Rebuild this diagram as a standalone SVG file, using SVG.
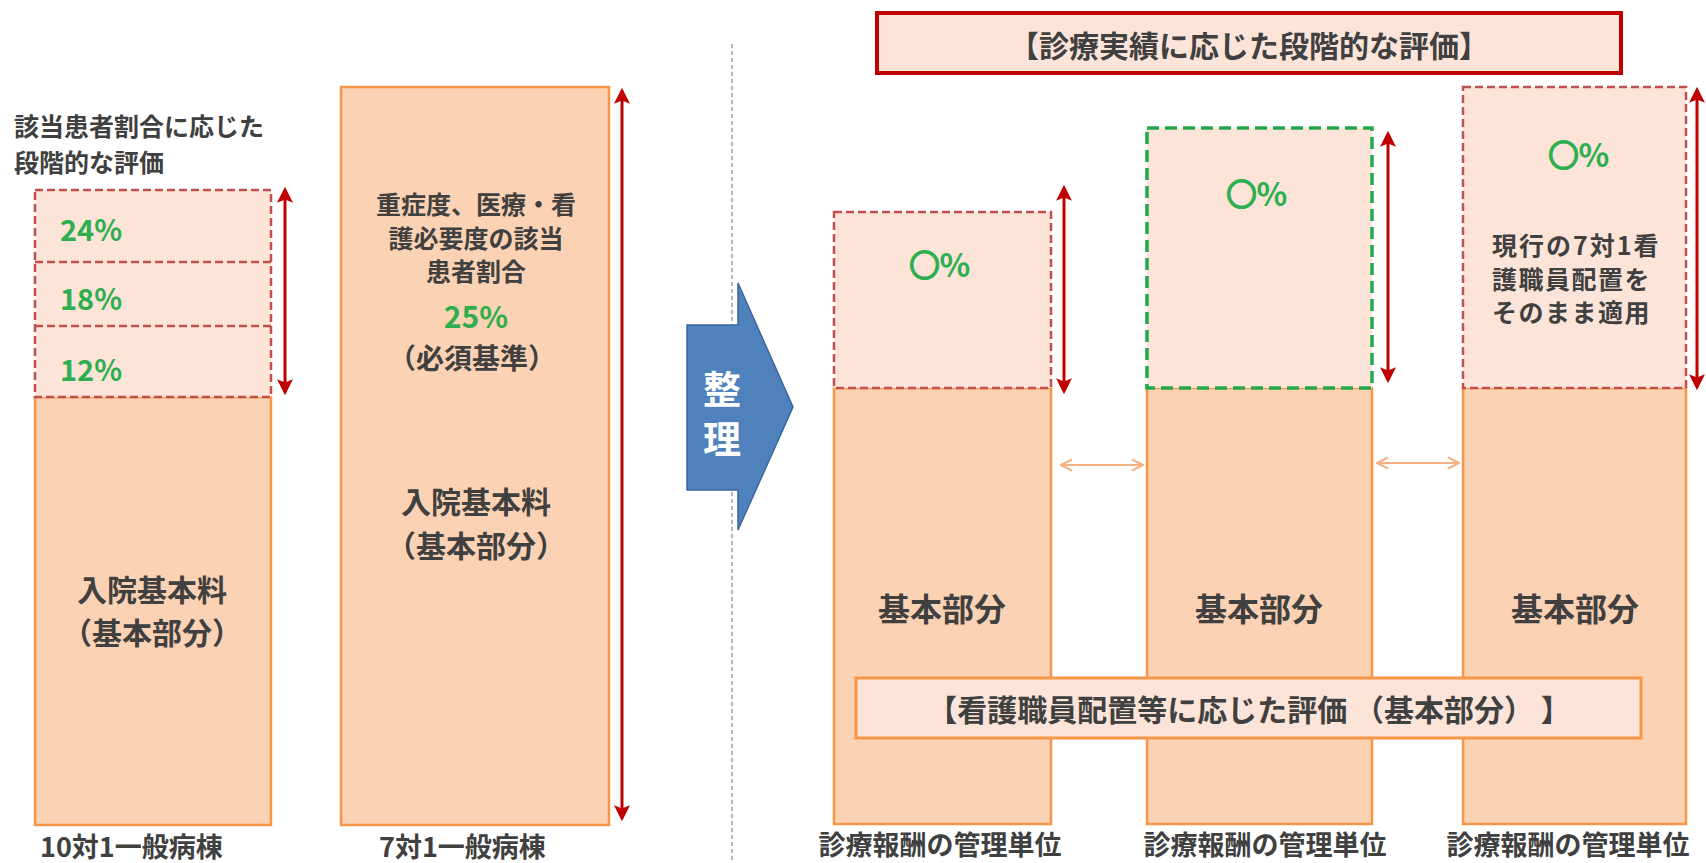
<svg xmlns="http://www.w3.org/2000/svg" width="1706" height="863" viewBox="0 0 1706 863">
<defs>
<style>
.t{font-family:"Noto Sans CJK JP","Noto Sans CJK SC",sans-serif;font-weight:700;fill:#404040;dominant-baseline:central}
.c{text-anchor:middle}
.g{fill:#2EAF4F}
.o{stroke:#2EAF4F;stroke-width:2.2}
.solid{fill:#FBD2B3;stroke:#F79646;stroke-width:2.5}
.dashr{fill:#FCE5D8;stroke:#C0504D;stroke-width:2.5;stroke-dasharray:8 4}
.dashg{fill:#FCE5D8;stroke:#22A84A;stroke-width:3.5;stroke-dasharray:12 6}
.redar{stroke:#C00000;stroke-width:3;fill:none;marker-start:url(#ra);marker-end:url(#ra)}
.orar{stroke:#F4B183;stroke-width:2;fill:none;marker-start:url(#oa);marker-end:url(#oa)}
</style>
<marker id="ra" viewBox="0 0 10 10" refX="8" refY="5" markerWidth="16" markerHeight="16" markerUnits="userSpaceOnUse" orient="auto-start-reverse"><path d="M0,0 L10,5 L0,10 L2,5 z" fill="#C00000"/></marker>
<marker id="oa" viewBox="0 0 10 10" refX="9" refY="5" markerWidth="14" markerHeight="14" markerUnits="userSpaceOnUse" orient="auto-start-reverse"><path d="M1,1 L9,5 L1,9" fill="none" stroke="#F4B183" stroke-width="1.5"/></marker>
</defs>
<rect width="1706" height="863" fill="#FFFFFF"/>

<line x1="732" y1="44" x2="732" y2="863" stroke="#A0A0A0" stroke-width="1.5" stroke-dasharray="4 3"/>

<g id="left-caption">
<text class="t" x="14" y="125" font-size="25">該当患者割合に応じた</text>
<text class="t" x="14" y="161" font-size="25">段階的な評価</text>
</g>

<g id="ward10">
<rect class="solid" x="35" y="397" width="236" height="428"/>
<rect class="dashr" x="35" y="190" width="236" height="207"/>
<line x1="35" y1="262" x2="271" y2="262" stroke="#C0504D" stroke-width="2.5" stroke-dasharray="8 4"/>
<line x1="35" y1="326" x2="271" y2="326" stroke="#C0504D" stroke-width="2.5" stroke-dasharray="8 4"/>
<text class="t g" x="60" y="228" font-size="29">24%</text>
<text class="t g" x="60" y="297" font-size="29">18%</text>
<text class="t g" x="60" y="368" font-size="29">12%</text>
<text class="t c" x="152" y="588" font-size="30">入院基本料</text>
<text class="t c" x="152" y="631" font-size="30">（基本部分）</text>
<text class="t" x="40" y="845" font-size="27">10対1一般病棟</text>
</g>

<g id="ward7">
<rect class="solid" x="341" y="87" width="268" height="738"/>
<text class="t c" x="476" y="203" font-size="25">重症度、医療・看</text>
<text class="t c" x="476" y="237" font-size="25">護必要度の該当</text>
<text class="t c" x="476" y="270" font-size="25">患者割合</text>
<text class="t c g" x="476" y="315" font-size="30">25%</text>
<text class="t c" x="472" y="357" font-size="28">（必須基準）</text>
<text class="t c" x="476" y="500" font-size="30">入院基本料</text>
<text class="t c" x="476" y="544" font-size="30">（基本部分）</text>
<text class="t" x="379" y="845" font-size="27">7対1一般病棟</text>
</g>

<g id="seiri-arrow">
<polygon points="687,325 738,325 738,283 793,407 738,530 738,490 687,490" fill="#4F81BD" stroke="#3A679C" stroke-width="1.5"/>
<text class="t c" x="722" y="386" font-size="38" style="fill:#FFFFFF">整</text>
<text class="t c" x="722" y="436" font-size="38" style="fill:#FFFFFF">理</text>
</g>

<g id="title-box">
<rect x="877" y="13" width="744" height="60" fill="#FCE5D8" stroke="#C00000" stroke-width="4"/>
<text class="t c" x="1249" y="44" font-size="30">【診療実績に応じた段階的な評価】</text>
</g>

<g id="unit1">
<rect class="solid" x="834" y="388" width="217" height="436"/>
<rect class="dashr" x="834" y="212" width="217" height="176"/>
<text class="t c g" x="940" y="263" font-size="32"><tspan class="o" font-size="30">○</tspan>%</text>
<text class="t c" x="942" y="607" font-size="32">基本部分</text>
<text class="t c" x="940" y="843" font-size="27">診療報酬の管理単位</text>
</g>

<g id="unit2">
<rect class="solid" x="1147" y="388" width="225" height="436"/>
<rect class="dashg" x="1147" y="128" width="225" height="260"/>
<text class="t c g" x="1257" y="192" font-size="32"><tspan class="o" font-size="30">○</tspan>%</text>
<text class="t c" x="1259" y="607" font-size="32">基本部分</text>
<text class="t c" x="1265" y="843" font-size="27">診療報酬の管理単位</text>
</g>

<g id="unit3">
<rect class="solid" x="1463" y="388" width="223" height="436"/>
<rect class="dashr" x="1463" y="87" width="223" height="301"/>
<text class="t c g" x="1579" y="153" font-size="32"><tspan class="o" font-size="30">○</tspan>%</text>
<text class="t" x="1492" y="244" font-size="25" letter-spacing="2">現行の7対1看</text>
<text class="t" x="1492" y="278" font-size="25" letter-spacing="1.5">護職員配置を</text>
<text class="t" x="1492" y="311" font-size="25" letter-spacing="1.5">そのまま適用</text>
<text class="t c" x="1575" y="607" font-size="32">基本部分</text>
<text class="t c" x="1568" y="843" font-size="27">診療報酬の管理単位</text>
</g>

<g id="basic-box">
<rect x="856" y="678" width="785" height="60" fill="#FCE5D8" stroke="#F79646" stroke-width="3"/>
<text class="t c" x="1249" y="708" font-size="30">【看護職員配置等に応じた評価 （基本部分） 】</text>
</g>

<g id="connectors">
<line class="redar" x1="285" y1="190" x2="285" y2="392"/>
<line class="redar" x1="622" y1="91" x2="622" y2="818"/>
<line class="redar" x1="1064" y1="188" x2="1064" y2="391"/>
<line class="redar" x1="1388" y1="134" x2="1388" y2="380"/>
<line class="redar" x1="1697" y1="90" x2="1697" y2="387"/>
<line class="orar" x1="1061" y1="465" x2="1143" y2="465"/>
<line class="orar" x1="1377" y1="463" x2="1459" y2="463"/>
</g>
</svg>
